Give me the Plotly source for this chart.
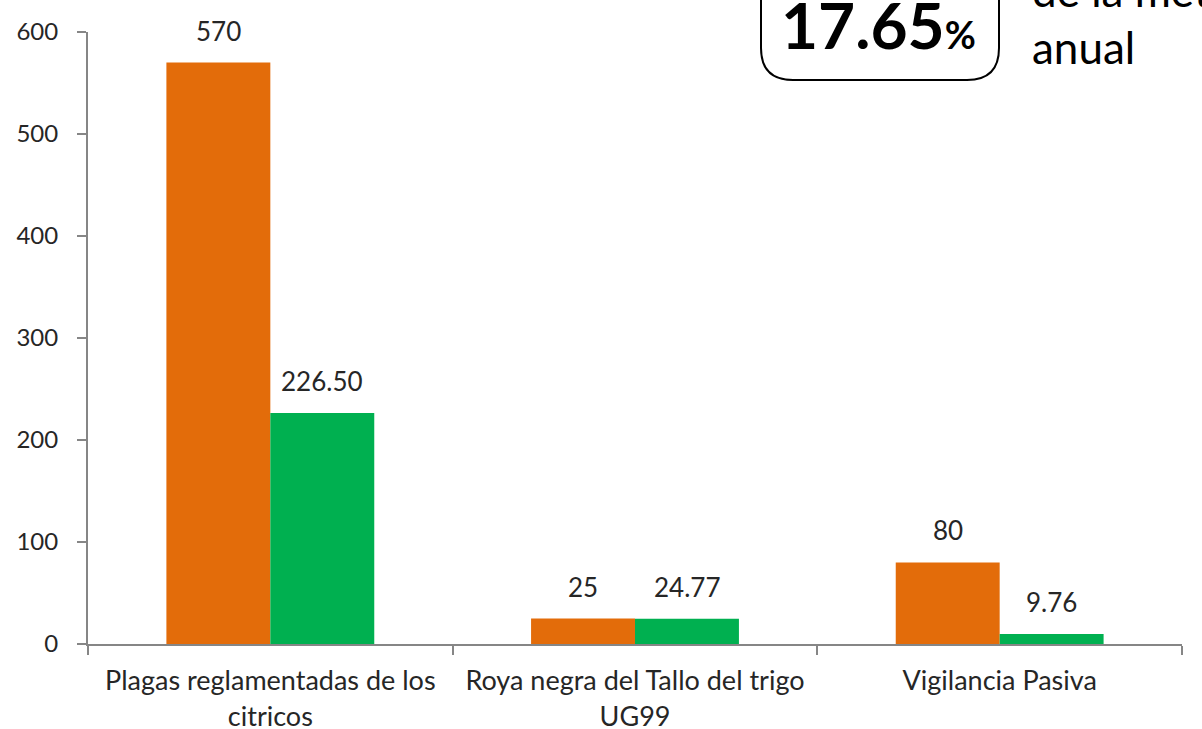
import plotly.graph_objects as go

# Datos
categorias = ["Plagas reglamentadas de los<br>citricos",
              "Roya negra del Tallo del trigo<br>UG99",
              "Vigilancia Pasiva"]
meta = [570, 25, 80]
ejecutado = [226.50, 24.77, 9.76]
meta_txt = ["570", "25", "80"]
ejec_txt = ["226.50", "24.77", "9.76"]
porcentaje = "17.65"

NARANJA = "#E36C0A"
VERDE = "#00B050"
FUENTE = "Lato"
TEXTO = "#262626"

W, H = 1202, 729
ML, MR, MT, MB = 88, 20, 32, 85
PW, PH = W - ML - MR, H - MT - MB


def px(xp):
    return (xp - ML) / PW


def py(yp):
    return (H - MB - yp) / PH


fig = go.Figure()
fig.add_trace(go.Bar(x=categorias, y=meta, name="Meta anual",
                     marker=dict(color=NARANJA, line=dict(width=0))))
fig.add_trace(go.Bar(x=categorias, y=ejecutado, name="Ejecutado",
                     marker=dict(color=VERDE, line=dict(width=0))))

# etiquetas de datos
anotaciones = []
ancho = (1 - 0.43) / 2
for i in range(len(categorias)):
    for val, txt, off in [(meta[i], meta_txt[i], -ancho / 2),
                          (ejecutado[i], ejec_txt[i], ancho / 2)]:
        anotaciones.append(dict(x=i + off, y=val, xref="x", yref="y", text=txt,
                                showarrow=False, yanchor="bottom", yshift=14,
                                font=dict(family=FUENTE, size=26, color=TEXTO)))

# recuadro con el porcentaje
anotaciones.append(dict(
    x=px(779), y=py(24), xref="paper", yref="paper", xanchor="left", yanchor="middle",
    text="<b>" + porcentaje + "<span style='font-size:38px'>%</span></b>",
    showarrow=False, font=dict(family=FUENTE, size=64, color="#000000")))
anotaciones.append(dict(
    x=px(1030), y=py(-10), xref="paper", yref="paper", xanchor="left", yanchor="middle",
    text="de la meta", showarrow=False, font=dict(family=FUENTE, size=44, color="#000000")))
anotaciones.append(dict(
    x=px(1030), y=py(47), xref="paper", yref="paper", xanchor="left", yanchor="middle",
    text="anual", showarrow=False, font=dict(family=FUENTE, size=44, color="#000000")))

# rectangulo redondeado
x0, x1, y0, y1, r = 761, 999, -40, 80, 32
rx, ry = r / PW, r / PH
camino = (f"M {px(x0)},{py(y0)} L {px(x0)},{py(y1) + ry} "
          f"Q {px(x0)},{py(y1)} {px(x0) + rx},{py(y1)} "
          f"L {px(x1) - rx},{py(y1)} "
          f"Q {px(x1)},{py(y1)} {px(x1)},{py(y1) + ry} "
          f"L {px(x1)},{py(y0)}")

fig.update_layout(
    width=W, height=H,
    margin=dict(l=ML, r=MR, t=MT, b=MB),
    barmode="group", bargap=0.43, bargroupgap=0,
    plot_bgcolor="white", paper_bgcolor="white",
    showlegend=False,
    font=dict(family=FUENTE, size=24, color=TEXTO),
    annotations=anotaciones,
    shapes=[dict(type="path", path=camino, xref="paper", yref="paper",
                 line=dict(color="#000000", width=2))],
)
fig.update_xaxes(showline=True, linecolor="#868686", linewidth=2,
                 ticks="outside", ticklen=9, tickcolor="#868686", tickwidth=2,
                 tickson="boundaries", showgrid=False, automargin=False,
                 ticklabelstandoff=12,
                 tickfont=dict(family=FUENTE, size=27, color=TEXTO))
fig.update_yaxes(range=[0, 600], dtick=100, showline=True, linecolor="#868686",
                 linewidth=2, ticks="outside", ticklen=9, tickcolor="#868686",
                 tickwidth=2, showgrid=False, zeroline=False, automargin=False,
                 ticklabelstandoff=14,
                 tickfont=dict(family=FUENTE, size=24, color=TEXTO))

# sin margen del body para que la figura empiece en (0, 0)
fig.write_html("out.html", config={"displayModeBar": False},
               post_script="document.body.style.margin='0';")
